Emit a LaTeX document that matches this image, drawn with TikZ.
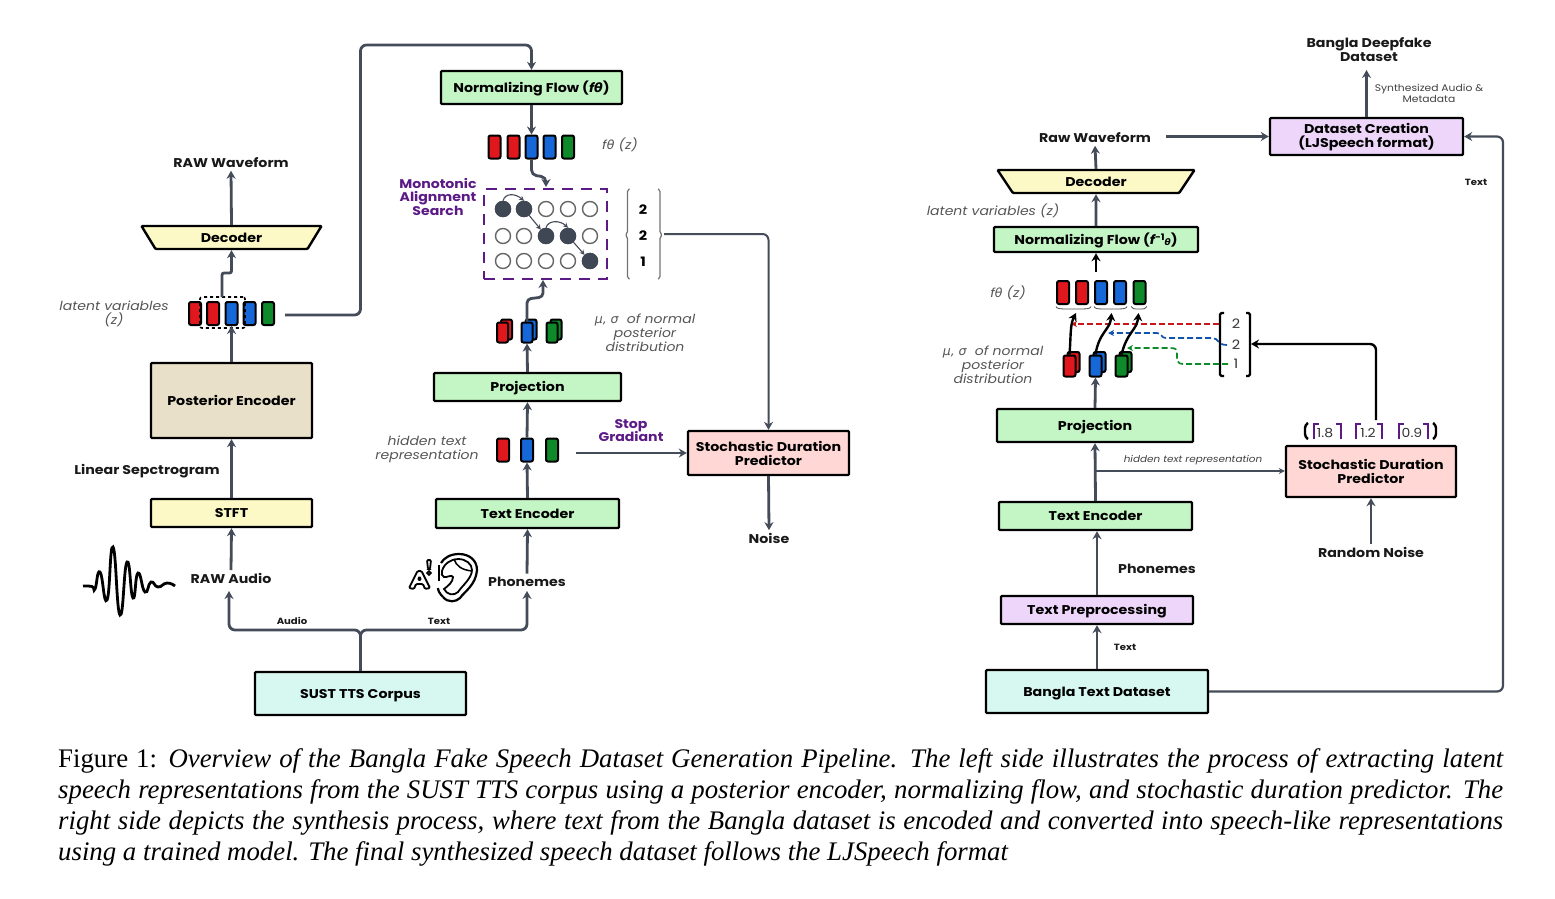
\documentclass[tikz,border=0pt]{standalone}
\usepackage{fontspec}
\setmainfont{Liberation Serif}
\newfontfamily\pop[FakeStretch=1.12]{Poppins}
\newfontfamily\gk{DejaVu Sans}
\usetikzlibrary{arrows.meta,shapes.geometric,calc}
\definecolor{conn}{HTML}{444B59}
\definecolor{mgreen}{HTML}{C4F5C4}
\definecolor{myellow}{HTML}{FCF9C6}
\definecolor{mtan}{HTML}{E8E0C8}
\definecolor{mpink}{HTML}{FFD8D6}
\definecolor{mcyan}{HTML}{D6F8F0}
\definecolor{mpurple}{HTML}{EDD6FA}
\definecolor{dpurple}{HTML}{5B1A86}
\definecolor{bred}{HTML}{E0181E}
\definecolor{bblue}{HTML}{1668D8}
\definecolor{bgreen}{HTML}{0E8A2A}
\definecolor{dot}{HTML}{3F4654}
\definecolor{ltxt}{HTML}{555555}
\tikzset{
 x=1pt,y=-1pt,
 arr/.style={-{Stealth[length=8pt,width=9pt]}},
 conn/.style={draw=conn,line width=2.8pt,arr,rounded corners=6pt},
 thinconn/.style={draw=conn,line width=1.6pt,-{Stealth[length=6pt,width=6pt]}},
 blk/.style={draw=black,line width=2.4pt,arr,rounded corners=3pt},
 box/.style={draw=black,line width=2.4pt,rounded corners=1pt,align=center,inner sep=0pt,font=\pop\fontsize{12.7}{14}\selectfont\bfseries},
 cen/.style={text height=11.5pt,text depth=2.5pt},
 gbox/.style={box,fill=mgreen,cen},
 deco/.style={box,cen,fill=myellow,trapezium,shape border rotate=180,trapezium left angle=68,trapezium right angle=68,trapezium stretches=true},
 lab/.style={font=\pop\fontsize{12.7}{14}\selectfont\bfseries,text=black!90,align=center,inner sep=3pt},
 small/.style={font=\pop\fontsize{9}{11}\selectfont\bfseries,text=black!90,align=center,inner sep=0pt},
 ital/.style={font=\pop\fontsize{12.5}{14}\selectfont\itshape,text=ltxt,align=center,inner sep=0pt},
 plab/.style={font=\pop\fontsize{12.6}{13.5}\selectfont\bfseries,text=dpurple,align=center,inner sep=0pt},
 barb/.style={draw=black,line width=2pt,rounded corners=2pt,minimum width=12pt,minimum height=23pt,inner sep=0pt},
 rb/.style={barb,fill=bred},
 bb/.style={barb,fill=bblue},
 gb/.style={barb,fill=bgreen},
 dotn/.style={circle,draw=black!60,line width=1.4pt,minimum size=15pt,inner sep=0pt,fill=white},
 dotf/.style={dotn,fill=dot,draw=dot},
 num/.style={font=\pop\fontsize{13}{14}\selectfont\bfseries,inner sep=0pt},
 numr/.style={font=\pop\fontsize{13}{14}\selectfont,text=black!80,inner sep=0pt},
 mini/.style={font=\pop\fontsize{12.5}{14}\selectfont,text=black!80,inner sep=0pt},
 pbr/.style={draw=dpurple,line width=2.6pt},
 dsh/.style={line width=1.7pt,dash pattern=on 6pt off 3pt,-{Stealth[length=6pt,width=6pt]}},
}
\newcommand\capline[1]{\hbox to 1445pt{#1}}
\begin{document}
\begin{tikzpicture}
\useasboundingbox (0,0) rectangle (1555,898);
% LEFT boxes
\node[box,cen,fill=mcyan,minimum width=211pt,minimum height=43pt] (corpus) at (360.5,693.5) {SUST TTS Corpus};
\node[box,cen,fill=myellow,minimum width=161pt,minimum height=28pt] (stft) at (231.5,513) {STFT};
\node[box,cen,fill=mtan,minimum width=161pt,minimum height=75pt] (post) at (231.5,400.5) {Posterior Encoder};
\node[deco,minimum width=181pt,minimum height=23pt] (dec) at (231.5,237.5) {Decoder};
\node[gbox,minimum width=181pt,minimum height=33pt] (flow) at (531.5,87.5) {Normalizing Flow ({\itshape f}{\gk\bfseries\itshape θ})};
\node[gbox,minimum width=187pt,minimum height=28pt] (proj) at (527.5,387) {Projection};
\node[gbox,minimum width=183pt,minimum height=29pt] (tenc) at (527.5,513.5) {Text Encoder};
\node[box,fill=mpink,minimum width=161pt,minimum height=44pt] (sdp) at (768.5,453) {Stochastic Duration\\Predictor};
% LEFT labels
\node[lab] (rawwave) at (231,162.5) {RAW Waveform};
\node[lab] (linspec) at (147,471.5) {Linear Sepctrogram};
\node[lab] (rawaudio) at (231,578.5) {RAW Audio};
\node[lab] (phon) at (527,581.5) {Phonemes};
\node[lab] (noise) at (769,538.5) {Noise};
\node[small] (audiol) at (292,621) {Audio};
\node[small] (textl) at (439,621) {Text};
\node[ital] (latl) at (114,314) {latent variables\\(z)};
\node[ital] (ftl) at (620,145) {{\itshape f}{\gk\itshape θ} (z)};
\node[ital] (musl) at (645,333) {{\gk\itshape μ, σ}\ \ of normal\\posterior\\distribution};
\node[ital] (hidl) at (427,449) {hidden text\\representation};
\node[plab] (masl) at (438,196.5) {Monotonic\\Alignment\\Search};
\node[plab] (stopl) at (631,430.5) {Stop\\Gradiant};
% latent bars
\node[rb] (la) at (195,313.5) {};
\node[rb] (lb) at (213,313.5) {};
\node[bb] (lc) at (231.5,313.5) {};
\node[bb] (ld) at (249.5,313.5) {};
\node[gb] (le) at (268,313.5) {};
\node[draw=black,line width=1.6pt,dashed,rounded corners=2pt,minimum width=45pt,minimum height=31pt,inner sep=0pt] (ldash) at (222.5,312.5) {};
\coordinate (lright) at (285,315);
% ftheta bars
\node[rb] (fa) at (494.5,147) {};
\node[rb] (fb) at (513.5,147) {};
\node[bb] (fc) at (531.5,147) {};
\node[bb] (fd) at (549.5,147) {};
\node[gb] (fe) at (568,147) {};
% stacked
\foreach \n/\x/\s in {ma/502.5/rb,mb/527/bb,mc/552/gb}{
 \node[\s,minimum width=11pt,minimum height=20pt] (\n back) at (\x+4,329.5) {};
 \node[\s,minimum width=11pt,minimum height=20pt] (\n) at (\x,332.5) {};
}
% hidden bars
\node[rb] (ha) at (503,450) {};
\node[bb] (hb) at (527,450) {};
\node[gb] (hc) at (552,450) {};
% MAS
\node[draw=dpurple,line width=2.6pt,dash pattern=on 11pt off 8pt,minimum width=123pt,minimum height=90pt,inner sep=0pt] (mas) at (545.5,234) {};
\foreach \y [count=\j] in {209,236,261}{
 \foreach \x [count=\i] in {503,524,546,568,590}{
  \node[dotn] (c\i\j) at (\x,\y) {};
 }
}
\foreach \i/\j in {1/1,2/1,3/2,4/2,5/3}{\node[dotf] at (c\i\j) {};}
\draw[thinconn,line width=1.1pt,-{Stealth[length=5pt,width=5pt]}] (c11.north) .. controls (505,193) and (515,193) .. (c21.north);
\draw[thinconn,line width=1.1pt,-{Stealth[length=5pt,width=5pt]}] (c21) -- (c32);
\draw[thinconn,line width=1.1pt,-{Stealth[length=5pt,width=5pt]}] (c32.north) .. controls (548,220) and (560,220) .. (c42.north);
\draw[thinconn,line width=1.1pt,-{Stealth[length=5pt,width=5pt]}] (c42) -- (c53);
% duration bracket
\draw[black!55,line width=1.2pt,rounded corners=1.5pt] (629.5,189) -- (627.5,190) -- (627.5,233) -- (625,235) -- (627.5,237) -- (627.5,278) -- (629.5,279);
\draw[black!55,line width=1.2pt,rounded corners=1.5pt] (658,189) -- (660,190) -- (660,233) -- (662.5,235) -- (660,237) -- (660,278) -- (658,279);
\coordinate (brk) at (664,234);
\node[num] at (643,210) {2};
\node[num] at (643,236) {2};
\node[num] at (643,262) {1};
% LEFT connectors
\coordinate (jn) at (360.5,630);
\coordinate (raudio) at (229,591);
\draw[conn] (corpus.north) -- (jn) -| (raudio);
\draw[conn] (corpus.north) -- (jn) -| (527,591);
\draw[conn] (rawaudio.north) -- (stft.south);
\draw[conn] (stft.north) -- (post.south);
\draw[conn] (post.north) -- (lc.south);
\draw[conn,rounded corners=2pt] (222,297) -- (222,273) -- (231.5,273) -- (dec.south);
\draw[conn] (dec.north) -- (rawwave.south);
\draw[conn] (lright) -- (360.5,315) -- (360.5,45) -- (531.5,45) -- (flow.north);
\draw[conn] (flow.south) -- (fc.north);
\draw[conn,rounded corners=5pt] (fc.south) -- (531.5,175) -- (546,177) -- (546,187);
\draw[conn,rounded corners=4pt] (mb.north) -- (527,299) -- (543,297) -- (543,280);
\draw[conn] (proj.north) -- (mb.south);
\draw[conn] (hb.north) -- (proj.south);
\draw[conn] (tenc.north) -- (hb.south);
\draw[conn] (phon.north) -- (tenc.south);
\draw[conn,line width=2pt] ($(hc.east)+(17,3)$) -- (sdp.west);
\draw[conn,line width=2pt] (brk) -| (sdp.north);
\draw[conn] (sdp.south) -- (noise.north);
% waveform icon
\draw[black,line width=2.8pt] plot[smooth,tension=.9] coordinates {(83,586)(92,586.5)(95,589)(100,572)(107,600)(113,547)(120,615)(127,562)(133,598)(138,573)(145,592)(151,582)(158,587)(167,583)(175,586)};
% ear icon
\begin{scope}[black,line width=1.8pt,rounded corners=1.2pt]
\draw (409,588) -- (417.5,571) -- (421.5,571) -- (430,588) -- (425,589) -- (423,584) -- (416,584) -- (414,589) -- cycle;
\draw (418,580) -- (419.5,576.5) -- (421,580) -- cycle;
\draw (427,560) -- (431,560) -- (430,569) -- (428,569) -- cycle;
\draw (429,573) circle (1.8);
\end{scope}
\draw[black,line width=2pt] (439,565) -- (439,581);
\draw[black,line width=2.2pt] (443,597) .. controls (439,593) and (438,590) .. (438,588);
\draw[black,line width=2.2pt] (443,597) .. controls (448,603) and (456,602) .. (460,598) .. controls (464,592) and (476,585) .. (477,570) .. controls (477,560) and (469,554) .. (459,554) .. controls (450,554) and (444,558) .. (441,563);
\draw[black,line width=1.8pt] (442,571) .. controls (444,563) and (452,559) .. (458,559) .. controls (466,559) and (472,564) .. (472,570) .. controls (472,578) and (462,586) .. (458,592) .. controls (454,596) and (447,595) .. (444,589) .. controls (448,586) and (453,582) .. (453,577) .. controls (452,574) and (446,578) .. (444,577) .. controls (442,576) and (441,574) .. (442,571);
\draw[black,line width=1.5pt] (454,559) .. controls (456,566) and (462,570) .. (472,571);
% RIGHT boxes
\node[box,cen,fill=mcyan,minimum width=222pt,minimum height=43pt] (bds) at (1097,691.5) {Bangla Text Dataset};
\node[box,cen,fill=mpurple,minimum width=192pt,minimum height=28pt] (tpre) at (1097,610) {Text Preprocessing};
\node[gbox,minimum width=193pt,minimum height=28pt] (rtenc) at (1095.5,516) {Text Encoder};
\node[gbox,minimum width=196pt,minimum height=33pt] (rproj) at (1095,425.5) {Projection};
\node[gbox,minimum width=204pt,minimum height=25pt] (rflow) at (1096,239.5) {Normalizing Flow ({\itshape f}\raisebox{4pt}{\fontsize{9}{9}\selectfont -1}\raisebox{-1pt}{\fontsize{9}{9}\selectfont\gk\bfseries\itshape θ})};
\node[deco,minimum width=198pt,minimum height=23pt] (rdec) at (1096,181.5) {Decoder};
\node[box,fill=mpurple,minimum width=193pt,minimum height=37pt] (dsc) at (1366.5,136.5) {};
\node[font=\pop\fontsize{12.7}{14}\selectfont\bfseries,align=center,inner sep=0pt] (dsct) at (1366.5,137.5) {Dataset Creation\\(LJSpeech format)};
\node[box,fill=mpink,minimum width=170pt,minimum height=51pt] (rsdp) at (1371,471.5) {Stochastic Duration\\Predictor};
% RIGHT labels
\node[lab] (rwave) at (1095,137.5) {Raw Waveform};
\node[lab] (deep) at (1369,50) {Bangla Deepfake\\Dataset};
\node[lab] (rphon) at (1157,568.5) {Phonemes};
\node[lab] (rnoise) at (1371,552.5) {Random Noise};
\node[small] (rtext) at (1125,647) {Text};
\node[small] (rtext2) at (1476,182) {Text};
\node[font=\pop\fontsize{9.6}{11}\selectfont,text=black!75,align=center,inner sep=0pt] (synth) at (1429,93) {Synthesized Audio \&\\Metadata};
\node[font=\pop\fontsize{9.3}{11}\selectfont\itshape,text=black!75,inner sep=0pt] (hidr) at (1193,460) {hidden text representation};
\node[ital] (rlat) at (993,211) {latent variables (z)};
\node[ital] (rft) at (1008,293) {{\itshape f}{\gk\itshape θ} (z)};
\node[ital] (rmu) at (993,365) {{\gk\itshape μ, σ}\ \ of normal\\posterior\\distribution};
% right bars
\node[rb] (ra) at (1063,292.5) {};
\node[rb] (rb) at (1082,292.5) {};
\node[bb] (rc) at (1101,292.5) {};
\node[bb] (rd) at (1120,292.5) {};
\node[gb] (re) at (1139.5,292.5) {};
\foreach \n/\x/\s in {sa/1069.5/rb,sb/1095.5/bb,sc/1121.5/gb}{
 \node[\s,minimum width=12pt,minimum height=20pt] (\n back) at (\x+4,362) {};
 \node[\s,minimum width=12pt,minimum height=21pt] (\n) at (\x,366) {};
}
% small braces
\foreach \a/\b in {1056/1091,1094/1127,1131/1147}{
 \draw[black!70,line width=.8pt] (\a,306.5) .. controls (\a+1,309) and (\a+3,309) .. ({(\a+\b)/2},309) .. controls (\b-3,309) and (\b-1,309) .. (\b,306.5);
}
% right bracket
\draw[black,line width=2.2pt,rounded corners=1.5pt] (1224,313) -- (1220,313) -- (1220,376) -- (1224,376);
\draw[black,line width=2.2pt,rounded corners=1.5pt] (1246,313) -- (1250,313) -- (1250,376) -- (1246,376);
\coordinate (rbrk) at (1251,344);
\node[numr] (n1) at (1236,324) {2};
\node[numr] (n2) at (1236,345) {2};
\node[numr] (n3) at (1236,364) {1};
% dashed
\draw[draw=bred!90!black,dsh] (1219,324) -- (1071,324);
\draw[draw=bblue!80!black,dsh] (1227,345) .. controls (1217,345) and (1219,338) .. (1212,338) -- (1166,338) .. controls (1160,338) and (1163,333) .. (1157,333) -- (1108,333);
\draw[draw=bgreen,dsh] (1228,364) -- (1183,364) .. controls (1177,364) and (1177,360) .. (1177,355) .. controls (1177,349) and (1176,348) .. (1170,348) -- (1127,348);
% value brackets
\node[mini] (v1) at (1325,433) {1.8};
\node[mini] (v2) at (1368,433) {1.2};
\node[mini] (v3) at (1412,433) {0.9};
\foreach \a/\b in {1314/1341,1356/1382,1399/1428}{
 \draw[pbr] (\a,439) -- (\a,424) -- (\a+5,424);
 \draw[pbr] (\b-5,424) -- (\b,424) -- (\b,439);
}
\draw[black,line width=2.4pt,rounded corners=3pt] (1308,423) -- (1305,425) -- (1305,437) -- (1308,439);
\draw[black,line width=2.4pt,rounded corners=3pt] (1433,423) -- (1436,425) -- (1436,437) -- (1433,439);
% right connectors
\draw[conn] (bds.north) -- (tpre.south);
\draw[conn] (tpre.north) -- (rtenc.south -| tpre.north);
\draw[conn] (rtenc.north) -- (rproj.south);
\coordinate (hj) at (1095.5,471);
\draw[thinconn] (hj) -- (rsdp.west |- hj);
\draw[conn] (rproj.north) -- (sb.south);
\draw[blk] (sa.north) .. controls (1071,335) and (1070,325) .. ([xshift=1pt,yshift=-8pt]rb.south west);
\draw[blk] (sb.north) .. controls (1099,332) and (1110,330) .. ([xshift=-8.5pt,yshift=-8pt]rd.south);
\draw[blk] (sc.north) .. controls (1127,332) and (1137,330) .. ([yshift=-8pt,xshift=-1pt]re.south);
\draw[blk] (rflow.south |- 0,272) -- (rflow.south);
\draw[conn] (rflow.north) -- (rdec.south);
\draw[conn] (rdec.north) -- (rwave.south);
\coordinate (rwout) at (1166,136.5);
\draw[conn,line width=2.2pt] (rwout) -- (dsc.west);
\draw[conn] (dsc.north) -- (1366.5,70);
\draw[conn,line width=2.2pt] (bds.east) -- (1503,691.5) -- (1503,136.5) -- (dsc.east);
\draw[conn] (rnoise.north) -- (rsdp.south);
\draw[blk,rounded corners=6pt] (1376,420) -- (1376,344) -- (rbrk);
% caption
\node[anchor=north west,inner sep=0pt,text=black] (cap) at (58,748) {\vbox{\fontsize{26.8}{31.3}\selectfont\hsize=1445pt\parindent=0pt
\capline{Figure 1: \itshape Overview of the Bangla Fake Speech Dataset Generation Pipeline. The left side illustrates the process of extracting latent}
\capline{\itshape speech representations from the SUST TTS corpus using a posterior encoder, normalizing flow, and stochastic duration predictor. The}
\capline{\itshape right side depicts the synthesis process, where text from the Bangla dataset is encoded and converted into speech-like representations}
\hbox{\itshape using a trained model. The final synthesized speech dataset follows the LJSpeech format}
}};
\end{tikzpicture}
\end{document}
